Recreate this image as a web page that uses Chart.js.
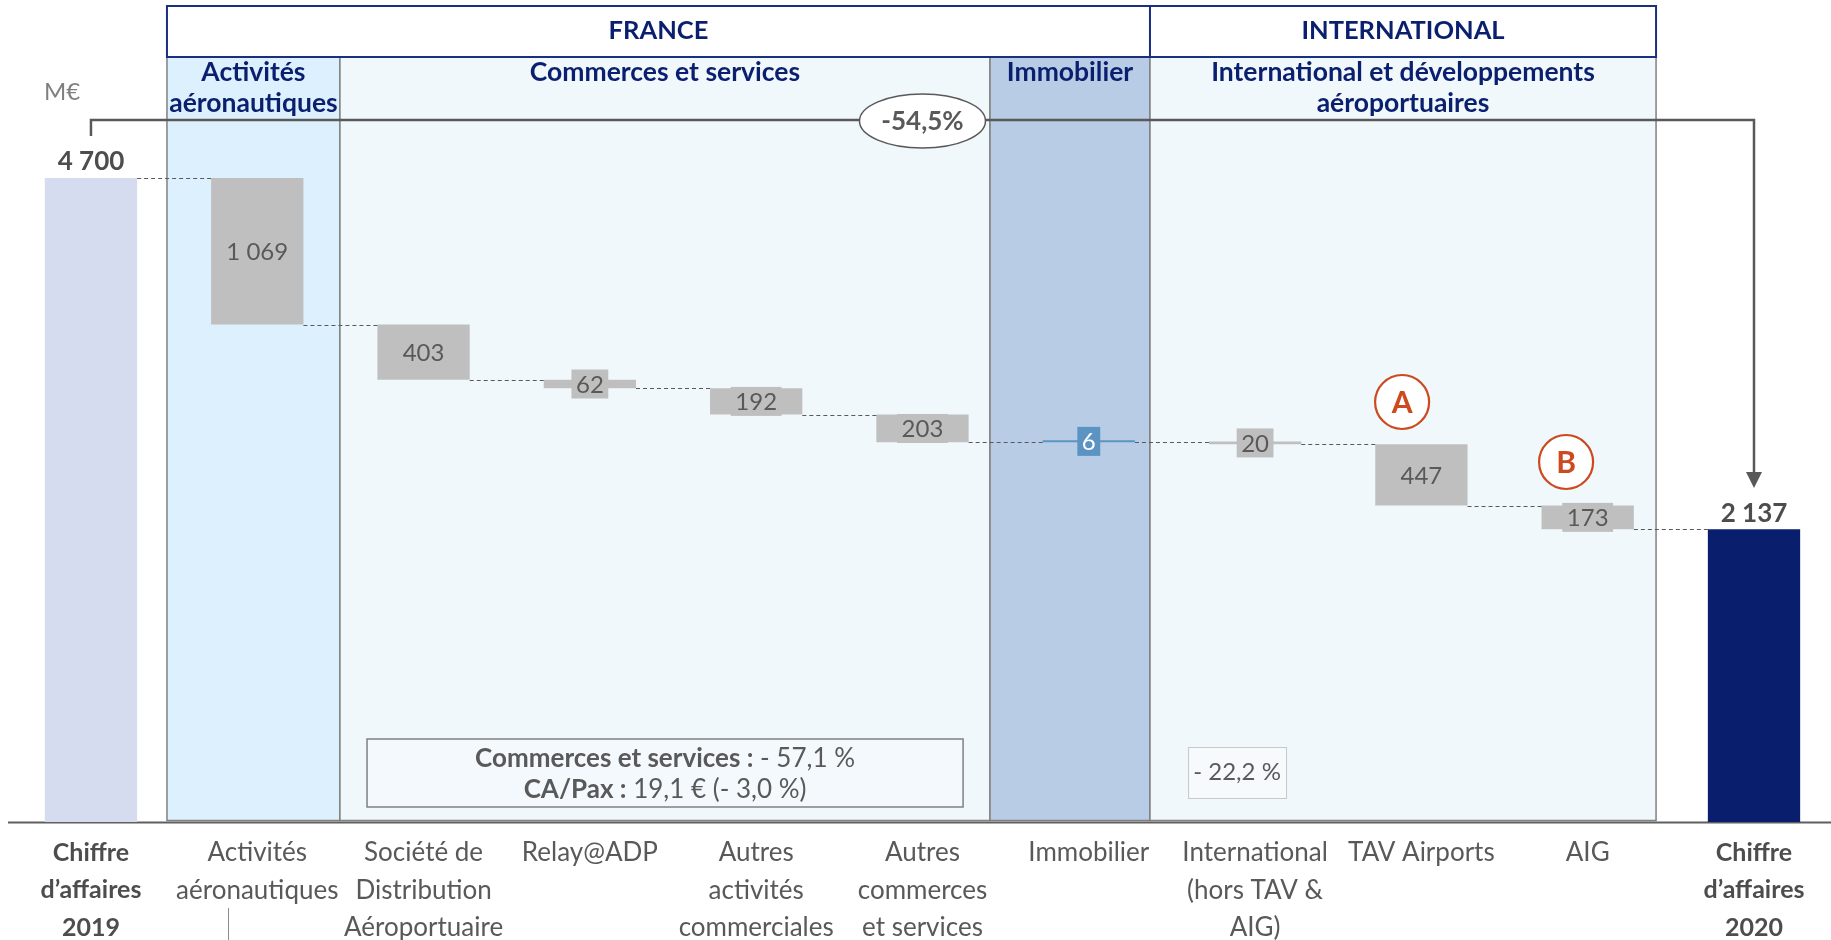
<!DOCTYPE html>
<html lang="fr">
<head>
<meta charset="utf-8">
<title>Chiffre d'affaires 2019 - 2020</title>
<script src="https://cdn.jsdelivr.net/npm/chart.js@4.4.1/dist/chart.umd.min.js"></script>
<style>
  html, body { margin: 0; padding: 0; background: #fff; }
  #wrap { position: relative; width: 1831px; height: 940px; }
</style>
</head>
<body>
<div id="wrap"><canvas id="chart"></canvas></div>
<script>
const FONT = "Lato, 'Open Sans', sans-serif";

// --- Data --------------------------------------------------------------------
const categories = [
  ["Chiffre", "d’affaires", "2019"],
  ["Activités", "aéronautiques"],
  ["Société de", "Distribution", "Aéroportuaire"],
  ["Relay@ADP"],
  ["Autres", "activités", "commerciales"],
  ["Autres", "commerces", "et services"],
  ["Immobilier"],
  ["International", "(hors TAV &", "AIG)"],
  ["TAV Airports"],
  ["AIG"],
  ["Chiffre", "d’affaires", "2020"],
];
const openingTotal = 4700;
const variations = [-1069, -403, -62, -192, -203, 6, -20, -447, -173];
const closingTotal = 2137;
const valueLabels = ["4 700", "1 069", "403", "62", "192", "203", "6", "20", "447", "173", "2 137"];

const headerTitles = ["FRANCE", "INTERNATIONAL"];
const segmentTitles = [
  ["Activités", "aéronautiques"],
  ["Commerces et services"],
  ["Immobilier"],
  ["International et développements", "aéroportuaires"],
];
const totalChange = "-54,5%";
const unitLabel = "M€";
const markers = ["A", "B"];
const commerceNote = [
  ["Commerces et services :", " - 57,1 %"],
  ["CA/Pax :", " 19,1 € (- 3,0 %)"],
];
const internationalNote = "- 22,2 %";

// --- Layout / styles ---------------------------------------------------------
const C = {
  start: "#D6DCF0", end: "#0A1E6E", down: "#BFBFBF", up: "#5B93C3",
  navy: "#0B1F6F", navyLine: "#1B2F80", ink: "#595959", bold: "#4D4D4D",
  panelLine: "#808080", accent: "#CC4A1E",
};
const LAYOUT = {
  panelEdges: [0.457, 1.497, 5.406, 6.368, 9.411],   // x-axis units
  panelFills: ["#DDF0FD", "#F0F8FC", "#B8CDE5", "#F0F8FC"],
  headerSpans: [[0, 3], [3, 4]],
  headerTop: 6, headerBottom: 57,
  arrowY: 120, arrowTickBottom: 136, arrowTip: 488,
  ellipse: { x: 5, rx: 63, ry: 27 },
  markers: [{ x: 7.884, y: 402 }, { x: 8.87, y: 462 }],
  commerceBox: { x0: 1.660, x1: 5.244, y0: 739, y1: 807 },
  intlBox: { x0: 6.597, x1: 7.186, y0: 747, y1: 798 },
};

// running total after each bar
const levels = [openingTotal];
variations.forEach((v) => levels.push(levels[levels.length - 1] + v));
const ranges = [[0, openingTotal]];
variations.forEach((v, i) => ranges.push([levels[i], levels[i + 1]]));
ranges.push([0, closingTotal]);
const kinds = ranges.map((r, i) =>
  i === 0 ? "start" : i === ranges.length - 1 ? "end" : variations[i - 1] > 0 ? "up" : "down"
);

// --- Drawing helpers ---------------------------------------------------------
function text(ctx, str, x, y, font, color, align = "center") {
  ctx.font = font;
  ctx.fillStyle = color;
  ctx.textAlign = align;
  ctx.textBaseline = "middle";
  ctx.fillText(str, x, y);
}

const backdrop = {
  id: "backdrop",
  beforeDatasetsDraw(chart) {
    const { ctx, chartArea } = chart;
    const xs = chart.scales.x;
    const edges = LAYOUT.panelEdges.map((v) => xs.getPixelForValue(v));
    const top = LAYOUT.headerBottom;
    const bottom = chartArea.bottom - 1.5;
    ctx.save();
    segmentTitles.forEach((title, i) => {
      ctx.fillStyle = LAYOUT.panelFills[i];
      ctx.fillRect(edges[i], top, edges[i + 1] - edges[i], bottom - top);
      ctx.strokeStyle = C.panelLine;
      ctx.lineWidth = 1.5;
      ctx.strokeRect(edges[i], top, edges[i + 1] - edges[i], bottom - top);
      const cx = (edges[i] + edges[i + 1]) / 2;
      title.forEach((line, j) => text(ctx, line, cx, 72 + j * 31, `bold 26.5px ${FONT}`, C.navy));
    });
    LAYOUT.headerSpans.forEach(([a, b], i) => {
      const x0 = edges[a], x1 = edges[b];
      ctx.fillStyle = "#fff";
      ctx.fillRect(x0, LAYOUT.headerTop, x1 - x0, top - LAYOUT.headerTop);
      ctx.strokeStyle = C.navyLine;
      ctx.lineWidth = 2;
      ctx.strokeRect(x0, LAYOUT.headerTop, x1 - x0, top - LAYOUT.headerTop);
      text(ctx, headerTitles[i], (x0 + x1) / 2, 31, `bold 25.5px ${FONT}`, C.navy);
    });
    // baseline
    ctx.strokeStyle = "#5F5F5F";
    ctx.lineWidth = 2;
    ctx.beginPath();
    ctx.moveTo(8, chartArea.bottom + 0.5);
    ctx.lineTo(chartArea.right, chartArea.bottom + 0.5);
    ctx.stroke();
    ctx.restore();
  },
};

const annotations = {
  id: "annotations",
  afterDatasetsDraw(chart) {
    const { ctx } = chart;
    const xs = chart.scales.x, ys = chart.scales.y;
    const bars = chart.getDatasetMeta(0).data;
    ctx.save();

    // dashed connectors
    ctx.strokeStyle = C.ink;
    ctx.lineWidth = 1.2;
    ctx.setLineDash([4, 3]);
    levels.forEach((lv, i) => {
      const a = bars[i], b = bars[i + 1];
      const y = Math.round(ys.getPixelForValue(lv)) + 0.5;
      ctx.beginPath();
      ctx.moveTo(a.x + a.width / 2, y);
      ctx.lineTo(b.x - b.width / 2, y);
      ctx.stroke();
    });
    ctx.setLineDash([]);

    // value labels
    bars.forEach((bar, i) => {
      const k = kinds[i];
      if (k === "start" || k === "end") {
        text(ctx, valueLabels[i], bar.x, Math.min(bar.y, bar.base) - 16, `bold 26px ${FONT}`, C.bold);
        return;
      }
      const cy = (bar.y + bar.base) / 2;
      ctx.font = `24px ${FONT}`;
      const w = ctx.measureText(valueLabels[i]).width + 9;
      ctx.fillStyle = C[k];
      ctx.fillRect(bar.x - w / 2, cy - 14.5, w, 29);
      text(ctx, valueLabels[i], bar.x, cy + 1, `24px ${FONT}`, k === "up" ? "#fff" : C.ink);
    });

    // overall change arrow
    const first = bars[0], last = bars[bars.length - 1];
    const ay = LAYOUT.arrowY;
    ctx.strokeStyle = C.ink;
    ctx.lineWidth = 2.5;
    ctx.beginPath();
    ctx.moveTo(first.x, LAYOUT.arrowTickBottom);
    ctx.lineTo(first.x, ay);
    ctx.lineTo(last.x, ay);
    ctx.lineTo(last.x, LAYOUT.arrowTip - 14);
    ctx.stroke();
    ctx.fillStyle = C.ink;
    ctx.beginPath();
    ctx.moveTo(last.x - 8, LAYOUT.arrowTip - 16);
    ctx.lineTo(last.x + 8, LAYOUT.arrowTip - 16);
    ctx.lineTo(last.x, LAYOUT.arrowTip);
    ctx.closePath();
    ctx.fill();

    const ex = xs.getPixelForValue(LAYOUT.ellipse.x);
    ctx.beginPath();
    ctx.ellipse(ex, ay + 1, LAYOUT.ellipse.rx, LAYOUT.ellipse.ry, 0, 0, Math.PI * 2);
    ctx.fillStyle = "#fff";
    ctx.fill();
    ctx.lineWidth = 1.5;
    ctx.strokeStyle = C.ink;
    ctx.stroke();
    text(ctx, totalChange, ex, ay + 2, `bold 26px ${FONT}`, C.ink);

    text(ctx, unitLabel, 62, 92, `24px ${FONT}`, "#808080");

    // A / B markers
    markers.forEach((m, i) => {
      const p = LAYOUT.markers[i];
      const mx = xs.getPixelForValue(p.x);
      ctx.beginPath();
      ctx.arc(mx, p.y, 27, 0, Math.PI * 2);
      ctx.fillStyle = "#fff";
      ctx.fill();
      ctx.lineWidth = 2.2;
      ctx.strokeStyle = C.accent;
      ctx.stroke();
      text(ctx, m, mx, p.y + 1, `bold 30px ${FONT}`, C.accent);
    });

    // note boxes
    const cb = LAYOUT.commerceBox;
    const cx0 = xs.getPixelForValue(cb.x0), cx1 = xs.getPixelForValue(cb.x1);
    ctx.fillStyle = "#F3F9FC";
    ctx.fillRect(cx0, cb.y0, cx1 - cx0, cb.y1 - cb.y0);
    ctx.strokeStyle = C.panelLine;
    ctx.lineWidth = 1.5;
    ctx.strokeRect(cx0, cb.y0, cx1 - cx0, cb.y1 - cb.y0);
    commerceNote.forEach(([b, r], j) => {
      const y = 759 + j * 31;
      ctx.font = `bold 26px ${FONT}`;
      const wb = ctx.measureText(b).width;
      ctx.font = `26px ${FONT}`;
      const wr = ctx.measureText(r).width;
      const sx = (cx0 + cx1) / 2 - (wb + wr) / 2;
      text(ctx, b, sx, y, `bold 26px ${FONT}`, C.ink, "left");
      text(ctx, r, sx + wb, y, `26px ${FONT}`, C.ink, "left");
    });

    const ib = LAYOUT.intlBox;
    const ix0 = xs.getPixelForValue(ib.x0), ix1 = xs.getPixelForValue(ib.x1);
    ctx.fillStyle = "#F6FAFC";
    ctx.fillRect(ix0, ib.y0, ix1 - ix0, ib.y1 - ib.y0);
    ctx.strokeStyle = "#C8C8C8";
    ctx.lineWidth = 1;
    ctx.strokeRect(ix0 + 0.5, ib.y0 + 0.5, ix1 - ix0, ib.y1 - ib.y0);
    text(ctx, internationalNote, (ix0 + ix1) / 2, (ib.y0 + ib.y1) / 2, `24px ${FONT}`, C.ink);

    // small stray stroke under "aéronautiques"
    ctx.strokeStyle = "#8C8C8C";
    ctx.lineWidth = 1;
    ctx.beginPath();
    ctx.moveTo(228.5, 908);
    ctx.lineTo(228.5, 940);
    ctx.stroke();

    ctx.restore();
  },
};

// --- Chart -------------------------------------------------------------------
new Chart(document.getElementById("chart"), {
  type: "bar",
  data: {
    datasets: [{
      data: ranges.map((r, i) => ({ x: i, y: r })),
      backgroundColor: kinds.map((k) => C[k]),
      borderWidth: 0,
      minBarLength: 2,
      categoryPercentage: 1,
      barPercentage: 0.555,
    }],
  },
  options: {
    responsive: true,
    maintainAspectRatio: false,
    animation: false,
    layout: { padding: 0 },
    plugins: { legend: { display: false }, tooltip: { enabled: false } },
    scales: {
      x: {
        type: "linear",
        offset: false,
        bounds: "data",
        min: -0.547,
        max: 10.463,
        grid: { display: false, drawTicks: false, offset: false },
        border: { display: false },
        afterBuildTicks: (s) => { s.ticks = categories.map((_, i) => ({ value: i })); },
        afterFit: (s) => { s.height = 118; s.paddingLeft = 0; s.paddingRight = 0; },
        ticks: {
          autoSkip: false,
          maxRotation: 0,
          minRotation: 0,
          padding: 12,
          callback: (v) => categories[v],
          color: (c) => (c.index === 0 || c.index === categories.length - 1 ? C.bold : C.ink),
          font: (c) => (c.index === 0 || c.index === categories.length - 1
            ? { family: FONT, size: 25, weight: "bold", lineHeight: "37.5px" }
            : { family: FONT, size: 26, weight: "normal", lineHeight: "37.5px" }),
        },
      },
      y: { display: false, min: 0, max: 6000 },
    },
  },
  plugins: [backdrop, annotations],
});
</script>
</body>
</html>
